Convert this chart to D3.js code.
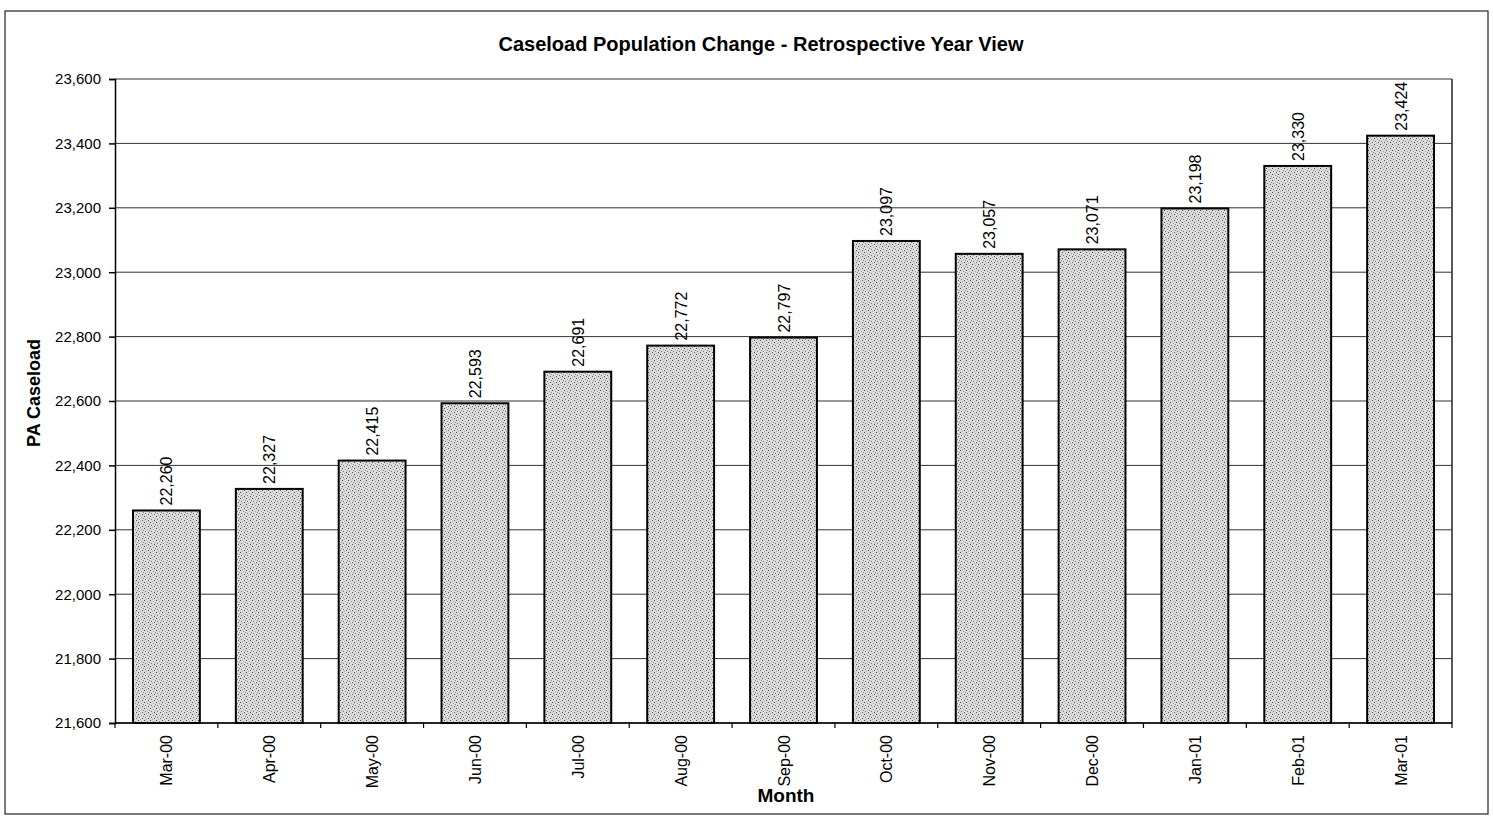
<!DOCTYPE html>
<html><head><meta charset="utf-8">
<script src="https://cdn.jsdelivr.net/npm/d3@7"></script>
<style>body{margin:0;background:#fff}svg{display:block}text{font-family:Arial,"Liberation Sans",sans-serif}</style>
</head><body>
<svg id="c" width="1493" height="818"></svg>
<script>
const months = ["Mar-00","Apr-00","May-00","Jun-00","Jul-00","Aug-00","Sep-00","Oct-00","Nov-00","Dec-00","Jan-01","Feb-01","Mar-01"];
const caseload = [22260,22327,22415,22593,22691,22772,22797,23097,23057,23071,23198,23330,23424];
const yTicks = [21600,21800,22000,22200,22400,22600,22800,23000,23200,23400,23600];
const title = "Caseload Population Change - Retrospective Year View";

const svg = d3.select("#c");
const m = {l:115, r:1452, t:79, b:723};

const defs = svg.append("defs");
const pat = defs.append("pattern").attr("id","stip").attr("patternUnits","userSpaceOnUse").attr("width",6).attr("height",6);
pat.append("rect").attr("width",6).attr("height",6).attr("fill","#dcdcdc");
[[0,0,"#444"],[3,1,"#999"],[1,3,"#777"],[4,4,"#555"],[2,5,"#aaa"],[5,2,"#888"]].forEach(([x,y,c])=>pat.append("rect").attr("x",x).attr("y",y).attr("width",1).attr("height",1).attr("fill",c));

// outer border
svg.append("rect").attr("x",5).attr("y",11).attr("width",1483).attr("height",803).attr("fill","none").attr("stroke","#222").attr("stroke-width",1.2);

const x = d3.scaleBand().domain(months).range([m.l,m.r]).paddingInner(0.35).paddingOuter(0.175);
const y = d3.scaleLinear().domain([21600,23600]).range([m.b,m.t]);

// gridlines
svg.append("g").selectAll("line").data(yTicks).join("line")
  .attr("x1",m.l).attr("x2",m.r).attr("y1",d=>y(d)).attr("y2",d=>y(d))
  .attr("stroke","#333").attr("stroke-width",1);
// right border of plot
svg.append("line").attr("x1",m.r).attr("x2",m.r).attr("y1",m.t).attr("y2",m.b).attr("stroke","#222").attr("stroke-width",1.5);

// bars
svg.append("g").selectAll("rect").data(caseload).join("rect")
  .attr("x",(d,i)=>x(months[i])).attr("width",x.bandwidth())
  .attr("y",d=>y(d)).attr("height",d=>m.b-y(d))
  .attr("fill","url(#stip)").attr("stroke","#000").attr("stroke-width",2);

// value labels
svg.append("g").selectAll("text").data(caseload).join("text")
  .attr("transform",(d,i)=>`translate(${x(months[i])+x.bandwidth()/2+6},${y(d)-5}) rotate(-90)`)
  .attr("text-anchor","start").attr("font-size",16).attr("fill","#000")
  .text(d=>d3.format(",")(d));

// y axis
const ya = d3.axisLeft(y).tickValues(yTicks).tickFormat(d3.format(",")).tickSize(6).tickPadding(8);
const gy = svg.append("g").attr("transform",`translate(${m.l},0)`).call(ya);
gy.selectAll("text").attr("font-size",15).attr("fill","#000");
gy.selectAll("line,path").attr("stroke","#000").attr("stroke-width",1.5);

// x axis
const gx = svg.append("g").attr("transform",`translate(0,${m.b})`);
gx.append("line").attr("x1",m.l).attr("x2",m.r).attr("stroke","#000").attr("stroke-width",1.5);
const step = x.step();
gx.selectAll("line.t").data(d3.range(months.length+1)).join("line").attr("class","t")
  .attr("x1",i=>m.l+i*step).attr("x2",i=>m.l+i*step).attr("y1",0).attr("y2",5).attr("stroke","#000").attr("stroke-width",1.2);
gx.selectAll("text").data(months).join("text")
  .attr("transform",d=>`translate(${x(d)+x.bandwidth()/2+6},12) rotate(-90)`)
  .attr("text-anchor","end").attr("font-size",16).attr("fill","#000").text(d=>d);

// titles
svg.append("text").attr("x",761).attr("y",51).attr("text-anchor","middle").attr("font-size",20).attr("font-weight","bold").text(title);
svg.append("text").attr("transform",`translate(40,393) rotate(-90)`).attr("text-anchor","middle").attr("font-size",18).attr("font-weight","bold").text("PA Caseload");
svg.append("text").attr("x",786).attr("y",802).attr("text-anchor","middle").attr("font-size",19).attr("font-weight","bold").text("Month");
</script>
</body></html>
